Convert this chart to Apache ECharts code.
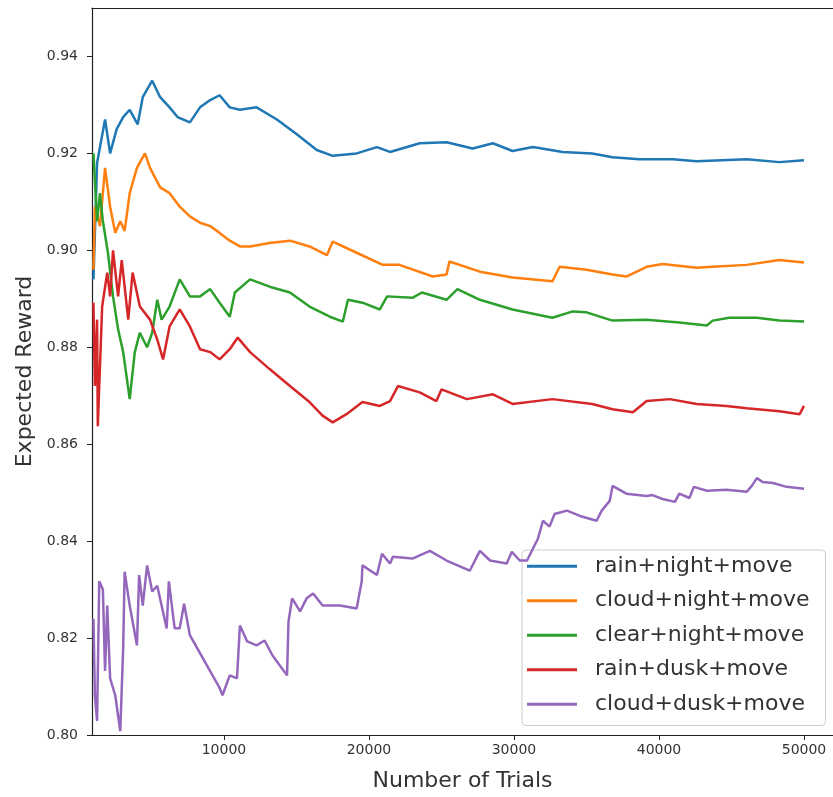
<!DOCTYPE html>
<html>
<head>
<meta charset="utf-8">
<script src="https://cdn.jsdelivr.net/npm/echarts@6/dist/echarts.min.js"></script>
<style>
html,body{margin:0;padding:0;background:#fff;}
#chart{width:833px;height:797px;}
</style>
</head>
<body>
<div id="chart"></div>
<script>
// ---- data ----
const seriesNames = ['rain+night+move','cloud+night+move','clear+night+move','rain+dusk+move','cloud+dusk+move'];
const seriesColors = ['#1f77b4','#ff7f0e','#2ca02c','#d62728','#9467bd'];

const xTicks = [10000, 20000, 30000, 40000, 50000];
const yTicks = [0.80, 0.82, 0.84, 0.86, 0.88, 0.90, 0.92, 0.94];

const rainNightTrials = [1000,1250,1800,2150,2600,3050,3500,4050,4400,5050,5600,6250,6800,7650,8350,9050,9700,10400,11100,12250,13650,15000,16400,17500,19150,20550,21450,23500,25350,27150,28550,29900,31300,33350,35400,36800,38650,40950,42600,46050,48300,50000];
const rainNightValues = [0.894,0.918,0.927,0.920,0.925,0.9275,0.929,0.926,0.9316,0.935,0.9316,0.9295,0.9275,0.9264,0.9295,0.931,0.932,0.9295,0.929,0.9295,0.927,0.924,0.9207,0.9195,0.920,0.9213,0.9203,0.9221,0.9223,0.921,0.9221,0.9205,0.9213,0.9203,0.920,0.9192,0.9188,0.9188,0.9184,0.9188,0.9182,0.9186];

const cloudNightTrials = [1000,1100,1450,1800,2150,2500,2850,3150,3500,4000,4550,4900,5600,6250,6950,7650,8350,9050,9700,10400,11100,11800,13150,14550,15900,17100,17500,19150,20950,22100,24400,25350,25550,27650,29900,32650,33150,35000,36800,37750,39150,40250,42600,43700,46050,48300,50000];
const cloudNightValues = [0.896,0.909,0.905,0.917,0.909,0.9036,0.906,0.904,0.9118,0.917,0.920,0.917,0.913,0.9118,0.909,0.907,0.9057,0.905,0.9036,0.902,0.9008,0.9008,0.9015,0.902,0.9008,0.899,0.9018,0.8995,0.897,0.897,0.8946,0.895,0.8977,0.8956,0.8944,0.8936,0.8966,0.896,0.895,0.8946,0.8966,0.8972,0.8964,0.8966,0.897,0.898,0.8975];

const clearNightTrials = [1000,1250,1450,1650,2000,2350,2700,3050,3500,3850,4200,4700,5050,5400,5700,6250,6950,7650,8350,9050,9700,10400,10750,11800,13150,14550,15900,17300,18200,18550,19550,20750,21250,23000,23650,25350,26100,27650,29900,32650,34050,35000,36800,39150,41400,43300,43700,44850,46750,48300,50000];
const clearNightValues = [0.920,0.906,0.9118,0.906,0.8995,0.8905,0.8837,0.879,0.8693,0.879,0.883,0.880,0.883,0.8898,0.8857,0.8884,0.894,0.8905,0.8905,0.892,0.8892,0.8863,0.8913,0.894,0.8925,0.8913,0.8884,0.8863,0.8853,0.8898,0.8892,0.8878,0.8905,0.8902,0.8913,0.8898,0.892,0.8898,0.8878,0.8861,0.8874,0.8872,0.8855,0.8857,0.8851,0.8845,0.8855,0.8861,0.8861,0.8855,0.8853];

const rainDuskTrials = [1000,1100,1250,1300,1600,1950,2150,2350,2700,2950,3400,3700,4200,4900,5400,5800,6250,6950,7650,8350,9050,9700,10400,10950,11800,13150,14550,15900,16800,17500,18450,19550,20750,21450,22000,23500,24650,25000,26750,28550,29900,32650,35400,36800,38200,39150,40750,42600,44650,46050,48300,49700,50000];
const rainDuskValues = [0.8892,0.872,0.8857,0.8637,0.8884,0.8954,0.8905,0.900,0.8905,0.898,0.8857,0.8954,0.8884,0.8857,0.8816,0.8775,0.8843,0.8878,0.8843,0.8796,0.879,0.8775,0.8796,0.882,0.879,0.8755,0.872,0.8687,0.8659,0.8645,0.8662,0.8687,0.8679,0.8689,0.872,0.8707,0.8689,0.8713,0.8693,0.8703,0.8683,0.8693,0.8683,0.8672,0.8666,0.8689,0.8693,0.8683,0.8679,0.8674,0.8668,0.8662,0.8679];

const cloudDuskTrials = [1000,1100,1250,1400,1650,1800,1950,2150,2500,2850,3050,3150,3500,4000,4150,4400,4700,5050,5400,5700,6050,6200,6600,6950,7250,7650,8550,9700,9900,10400,10900,11100,11600,12250,12800,13350,14350,14450,14700,15250,15700,16150,16800,18000,19150,19500,19550,20550,20900,21450,21650,23000,24200,25350,26950,27650,28350,29500,29850,30400,30900,31650,32000,32450,32800,33650,34550,35700,36050,36600,36800,37750,39150,39550,40250,41100,41400,42100,42400,43300,44650,46050,46400,46750,47150,47850,48800,50000];
const cloudDuskValues = [0.824,0.8082,0.8029,0.8317,0.830,0.8132,0.8267,0.8117,0.8082,0.8008,0.8179,0.8337,0.8267,0.8185,0.833,0.8267,0.835,0.8296,0.8308,0.8267,0.822,0.8317,0.822,0.822,0.8271,0.8206,0.8158,0.8097,0.8082,0.8123,0.8117,0.8226,0.8193,0.8185,0.8195,0.8164,0.8123,0.8234,0.8282,0.8255,0.8282,0.8292,0.8267,0.8267,0.8261,0.8317,0.835,0.833,0.8374,0.8354,0.8368,0.8364,0.838,0.836,0.8339,0.838,0.836,0.8354,0.8378,0.836,0.836,0.8405,0.8442,0.843,0.8456,0.8463,0.8452,0.8442,0.8463,0.8483,0.8514,0.8498,0.8493,0.8495,0.8487,0.8481,0.8498,0.8489,0.8512,0.8504,0.8506,0.8502,0.8514,0.853,0.8522,0.852,0.8512,0.8508];

const trialsList = [rainNightTrials, cloudNightTrials, clearNightTrials, rainDuskTrials, cloudDuskTrials];
const valuesList = [rainNightValues, cloudNightValues, clearNightValues, rainDuskValues, cloudDuskValues];

// ---- chart ----
const font = 'DejaVu Sans';
const axisColor = '#222';
const textColor = '#333';

const chart = echarts.init(document.getElementById('chart'), null, {renderer: 'canvas'});

const series = seriesNames.map((name, i) => ({
  name: name,
  type: 'line',
  data: trialsList[i].map((t, k) => [t, valuesList[i][k]]),
  symbol: 'none',
  showSymbol: false,
  lineStyle: {color: seriesColors[i], width: 2.5},
  itemStyle: {color: seriesColors[i]},
  emphasis: {disabled: true},
  z: 2 + i
}));

chart.setOption({
  animation: false,
  backgroundColor: '#fff',
  grid: {left: 92, top: 8, right: 0, bottom: 60, containLabel: false},
  xAxis: [{
    type: 'value',
    min: 900,
    max: 52000,
    name: 'Number of Trials',
    nameLocation: 'middle',
    nameGap: 35,
    nameTextStyle: {fontFamily: font, fontSize: 22, color: textColor},
    splitLine: {show: false},
    axisLine: {show: true, onZero: false, lineStyle: {color: axisColor, width: 1.2}},
    axisTick: {show: true, inside: false, length: 5, lineStyle: {color: axisColor, width: 1}, customValues: xTicks},
    axisLabel: {fontFamily: font, fontSize: 14, color: textColor, margin: 8, customValues: xTicks, formatter: v => String(v)}
  }, {
    type: 'value',
    position: 'top',
    min: 900,
    max: 52000,
    splitLine: {show: false},
    axisLine: {show: true, onZero: false, lineStyle: {color: axisColor, width: 1.2}},
    axisTick: {show: false},
    axisLabel: {show: false}
  }],
  yAxis: {
    type: 'value',
    min: 0.80,
    max: 0.95,
    name: 'Expected Reward',
    nameLocation: 'middle',
    nameGap: 51,
    nameTextStyle: {fontFamily: font, fontSize: 22, color: textColor},
    splitLine: {show: false},
    axisLine: {show: true, onZero: false, lineStyle: {color: axisColor, width: 1.2}},
    axisTick: {show: true, inside: false, length: 5, lineStyle: {color: axisColor, width: 1}, customValues: yTicks},
    axisLabel: {fontFamily: font, fontSize: 14, color: textColor, margin: 14, customValues: yTicks, formatter: v => v.toFixed(2)}
  },
  legend: {
    data: seriesNames,
    orient: 'vertical',
    left: 522,
    top: 550,
    padding: [3, 16, 8, 5],
    itemGap: 8,
    itemWidth: 50,
    itemHeight: 3,
    icon: 'rect',
    backgroundColor: 'rgba(255,255,255,0.8)',
    borderColor: '#cccccc',
    borderWidth: 1,
    borderRadius: 4,
    selectedMode: false,
    textStyle: {fontFamily: font, fontSize: 22, color: textColor, lineHeight: 26.5, padding: [0, 0, 0, 13]}
  },
  series: series
});
</script>
</body>
</html>
